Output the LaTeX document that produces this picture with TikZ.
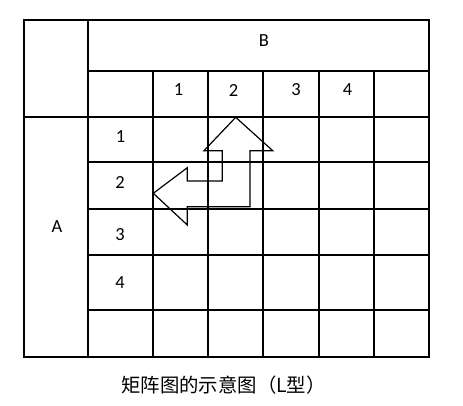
\documentclass[tikz,border=0pt]{standalone}
\usepackage{fontspec}
\setmainfont{Carlito}
\newfontfamily\cjk{Noto Sans CJK SC}
\begin{document}
\begin{tikzpicture}[x=1pt,y=-1pt,
  grid/.style={line width=2.2pt,black},
  arrowshape/.style={line width=1.2pt,black,line join=miter},
  lbl/.style={inner sep=0pt,font=\fontsize{18.5}{22}\selectfont},
  captext/.style={inner sep=0pt,font=\cjk\fontsize{19.4}{23}\selectfont}]
\useasboundingbox (0,0) rectangle (463,406);
% table
\draw[grid] (24,20) rectangle (429,357);
\draw[grid] (88,20) -- (88,357);
\draw[grid] (88,71) -- (429,71);
\draw[grid] (24,117) -- (429,117);
\foreach \y in {162,209,255,310} \draw[grid] (88,\y) -- (429,\y);
\foreach \x in {153,208,263,319,374} \draw[grid] (\x,71) -- (\x,357);
% labels
\node[lbl] (B) at (264,40.5) {B};
\node[lbl] (A) at (57,226.5) {A};
\node[lbl] (c1) at (178.5,90) {1};
\node[lbl] (c2) at (233.5,90) {2};
\node[lbl] (c3) at (296,90) {3};
\node[lbl] (c4) at (347.5,90) {4};
\node[lbl] (r1) at (120.5,136.5) {1};
\node[lbl] (r2) at (120,182) {2};
\node[lbl] (r3) at (120,234.5) {3};
\node[lbl] (r4) at (120,283) {4};
% L-shaped arrow
\draw[arrowshape] (235.7,117.3) -- (272.7,150.7) -- (250,150.7) -- (250,206.7)
  -- (187.3,206.7) -- (187.3,225) -- (153.3,193.3) -- (187.3,167.7) -- (187.3,181)
  -- (222.3,181) -- (222.3,150.7) -- (204,150.7) -- cycle;
% caption
\node[captext,anchor=west] (caption) at (121,385) {矩阵图的示意图（L型）};
\end{tikzpicture}
\end{document}
